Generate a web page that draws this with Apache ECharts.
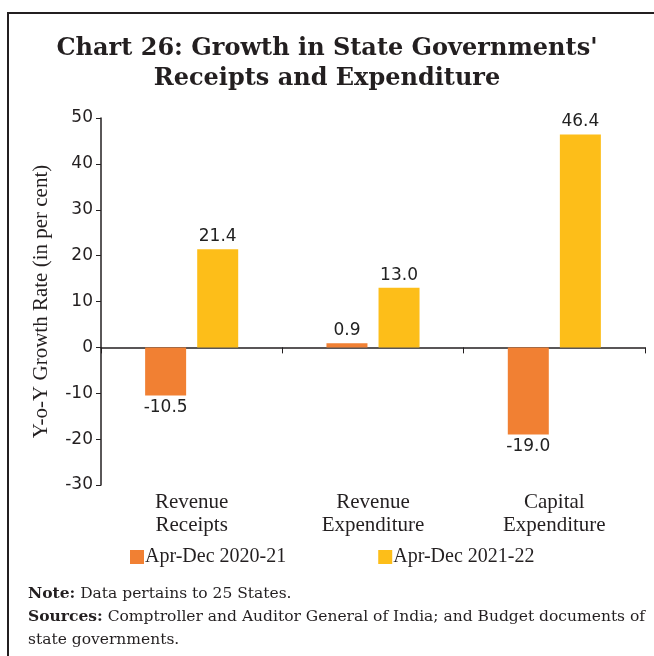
<!DOCTYPE html>
<html lang="en">
<head>
    <meta charset="UTF-8">
    <title>Chart 26</title>
    <style>
        html, body {
            margin: 0;
            padding: 0;
            background: #ffffff;
        }
        #main {
            width: 654px;
            height: 656px;
        }
    </style>
    <script type="text/javascript" src="https://cdn.jsdelivr.net/npm/echarts@6/dist/echarts.min.js"></script>
</head>
<body>
<div id="main"></div>
<script type="text/javascript">
    var categories = ["Revenue\nReceipts", "Revenue\nExpenditure", "Capital\nExpenditure"];
    var seriesNames = ["Apr-Dec 2020-21", "Apr-Dec 2021-22"];
    var growth2021 = [-10.5, 0.9, -19.0];
    var growth2122 = [21.4, 13.0, 46.4];

    var serif = '"Liberation Serif", "DejaVu Serif", serif';
    var wideSerif = '"DejaVu Serif", "Liberation Serif", serif';
    var sans = '"DejaVu Sans", sans-serif';

    var chart = echarts.init(document.getElementById('main'));

    function barLabel() {
        return {
            show: true,
            position: 'outside',
            distance: 4,
            fontFamily: sans,
            fontSize: 17,
            color: '#222',
            formatter: function (p) { return p.value.toFixed(1); }
        };
    }

    var option = {
        animation: false,
        title: {
            text: "Chart 26: Growth in State Governments'\nReceipts and Expenditure",
            left: 'center',
            top: 29,
            textStyle: {
                fontFamily: wideSerif,
                fontWeight: 'bold',
                fontSize: 24,
                lineHeight: 30,
                color: '#231f20'
            }
        },
        legend: {
            data: seriesNames,
            bottom: 84,
            left: 125,
            itemWidth: 14,
            itemHeight: 14,
            itemGap: 92,
            icon: 'rect',
            textStyle: {
                fontFamily: serif,
                fontSize: 20,
                color: '#231f20',
                padding: [0, 0, 0, -4]
            }
        },
        grid: {
            left: 101,
            right: 9,
            top: 118,
            bottom: 171
        },
        xAxis: [{
            type: 'category',
            data: categories,
            axisLine: { onZero: true, lineStyle: { color: '#231f20', width: 1.5 } },
            axisTick: { show: true, length: 6, lineStyle: { color: '#231f20' } },
            axisLabel: { show: false }
        }, {
            type: 'category',
            data: categories,
            position: 'bottom',
            axisLine: { show: false, onZero: false },
            axisTick: { show: false },
            axisLabel: {
                margin: 6,
                fontFamily: serif,
                fontSize: 21,
                lineHeight: 23,
                color: '#231f20'
            }
        }],
        yAxis: {
            type: 'value',
            min: -30,
            max: 50,
            interval: 10,
            name: 'Y-o-Y Growth Rate (in per cent)',
            nameLocation: 'middle',
            nameGap: 49,
            nameTextStyle: {
                fontFamily: serif,
                fontSize: 21,
                color: '#231f20'
            },
            axisLine: { show: true, lineStyle: { color: '#231f20', width: 1.5 } },
            axisTick: { show: true, length: 5, lineStyle: { color: '#231f20' } },
            axisLabel: {
                margin: 8,
                fontFamily: sans,
                fontSize: 17,
                color: '#231f20'
            },
            splitLine: { show: false }
        },
        series: [{
            name: seriesNames[0],
            type: 'bar',
            xAxisIndex: 0,
            data: growth2021,
            barWidth: 41,
            barGap: '27%',
            itemStyle: { color: '#f18033' },
            label: barLabel()
        }, {
            name: seriesNames[1],
            type: 'bar',
            xAxisIndex: 0,
            data: growth2122,
            barWidth: 41,
            barGap: '27%',
            itemStyle: { color: '#fdbe19' },
            label: barLabel()
        }],
        graphic: [{
            type: 'rect',
            shape: { x: 8, y: 13, width: 700, height: 700 },
            style: { fill: 'none', stroke: '#231f20', lineWidth: 2 },
            silent: true
        }, {
            type: 'text',
            left: 28,
            top: 582,
            style: {
                text: '{b|Note:} Data pertains to 25 States.\n{b|Sources:} Comptroller and Auditor General of India; and Budget documents of\nstate governments.',
                fontFamily: wideSerif,
                fontSize: 15.5,
                lineHeight: 23,
                fill: '#231f20',
                rich: {
                    b: { fontFamily: wideSerif, fontSize: 15.5, fontWeight: 'bold', fill: '#231f20' }
                }
            }
        }]
    };
    chart.setOption(option);
</script>
</body>
</html>
